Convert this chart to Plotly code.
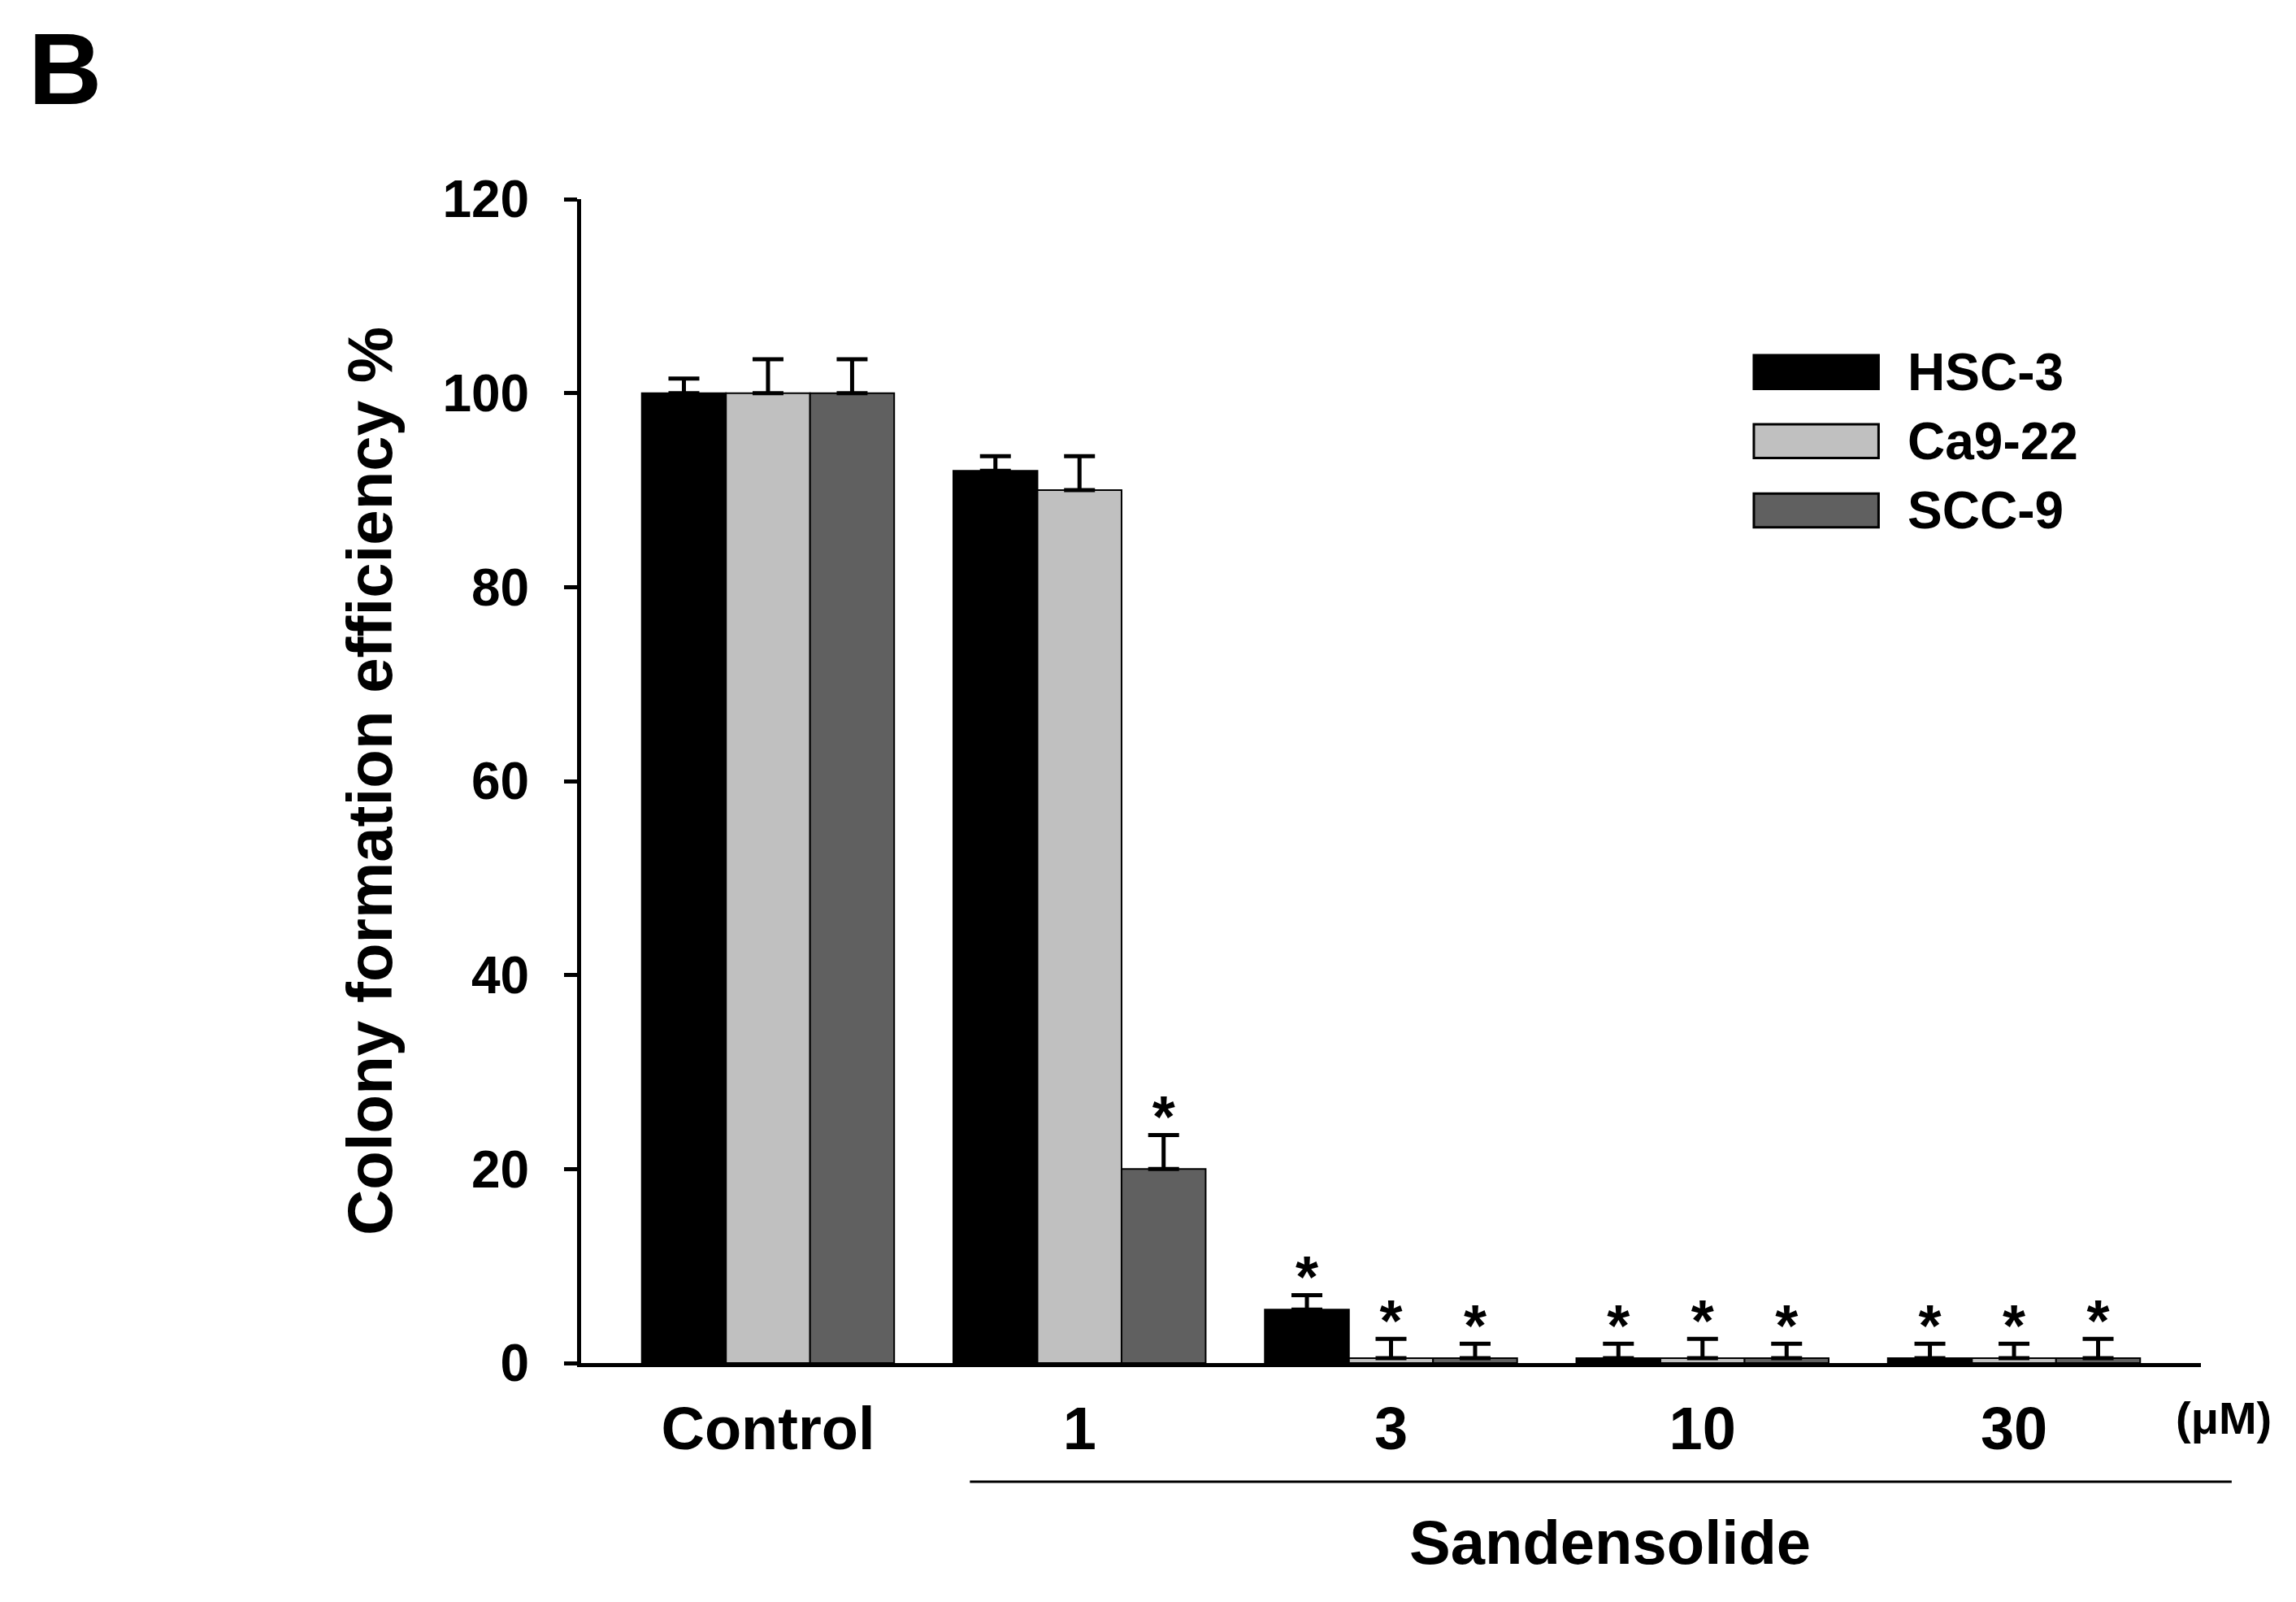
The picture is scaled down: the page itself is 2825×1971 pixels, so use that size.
import plotly.graph_objects as go

# Data
groups = ["Control", "1", "3", "10", "30"]
series_names = ["HSC-3", "Ca9-22", "SCC-9"]
series_colors = ["#000000", "#c0c0c0", "#606060"]

hsc3_mean = [100, 92, 5.5, 0.5, 0.5]
hsc3_err = [1.5, 1.5, 1.5, 1.5, 1.5]
ca922_mean = [100, 90, 0.5, 0.5, 0.5]
ca922_err = [3.5, 3.5, 2.0, 2.0, 1.5]
scc9_mean = [100, 20, 0.5, 0.5, 0.5]
scc9_err = [3.5, 3.5, 1.5, 1.5, 2.0]

hsc3_star = [False, False, True, True, True]
ca922_star = [False, False, True, True, True]
scc9_star = [False, True, True, True, True]

means = [hsc3_mean, ca922_mean, scc9_mean]
errs = [hsc3_err, ca922_err, scc9_err]
stars = [hsc3_star, ca922_star, scc9_star]

FONT = "Liberation Sans"
bar_w = 0.27
star_gap = 1.3  # gap between error bar top and asterisk, in axis units

fig = go.Figure()

for k in range(3):
    xs = [i + (k - 1) * bar_w for i in range(len(groups))]
    fig.add_trace(go.Bar(
        x=xs, y=means[k], width=bar_w, name=series_names[k],
        marker=dict(color=series_colors[k], line=dict(color="black", width=2)),
        error_y=dict(type="data", symmetric=False, array=errs[k],
                     arrayminus=[0] * len(groups), color="black",
                     thickness=5, width=19),
        showlegend=False,
    ))
    # significance asterisks
    sx = [x for x, s in zip(xs, stars[k]) if s]
    sy = [m + e + star_gap for m, e, s in zip(means[k], errs[k], stars[k]) if s]
    fig.add_trace(go.Scatter(
        x=sx, y=sy, mode="text", text=["*"] * len(sx),
        textposition="middle center",
        textfont=dict(family=FONT, size=72, color="black", weight="bold"),
        showlegend=False, hoverinfo="skip", cliponaxis=False,
    ))

# manual legend with wide swatches
annotations = []
shapes = []
for k, name in enumerate(series_names):
    y0 = 0.866 - k * 0.0595
    shapes.append(dict(type="rect", xref="paper", yref="paper",
                       x0=0.724, x1=0.801, y0=y0 - 0.029, y1=y0,
                       fillcolor=series_colors[k],
                       line=dict(color="black", width=3)))
    annotations.append(dict(xref="paper", yref="paper", x=0.818, y=y0 - 0.0145,
                            text=name, showarrow=False, xanchor="left",
                            yanchor="middle",
                            font=dict(family=FONT, size=64, color="black",
                                      weight="bold")))

annotations += [
    dict(xref="paper", yref="paper", x=-0.342, y=1.112, text="B", showarrow=False,
         xanchor="left", yanchor="middle",
         font=dict(family=FONT, size=125, color="black", weight="bold")),
    dict(xref="paper", yref="paper", x=1.014, y=-0.047, text="(μM)",
         showarrow=False, xanchor="center", yanchor="middle",
         font=dict(family=FONT, size=56, color="black", weight="bold")),
    dict(xref="paper", yref="paper", x=0.635, y=-0.154, text="Sandensolide",
         showarrow=False, xanchor="center", yanchor="middle",
         font=dict(family=FONT, size=76, color="black", weight="bold")),
]
shapes.append(dict(type="line", xref="paper", yref="paper",
                   x0=0.24, x1=1.019, y0=-0.102, y1=-0.102,
                   line=dict(color="black", width=3)))

fig.update_layout(
    width=2825, height=1971,
    margin=dict(l=707, r=125, t=237, b=302),
    plot_bgcolor="white", paper_bgcolor="white",
    barmode="overlay",
    annotations=annotations, shapes=shapes,
    font=dict(family=FONT, color="black"),
)

fig.update_xaxes(
    range=[-0.6, 4.6], tickvals=list(range(len(groups))), ticktext=groups,
    showline=True, linecolor="black", linewidth=5, ticks="",
    showgrid=False, zeroline=False, ticklabelstandoff=12,
    tickfont=dict(family=FONT, size=74, color="black", weight="bold"),
)
fig.update_yaxes(
    range=[0, 120], tickvals=[0, 20, 40, 60, 80, 100, 120],
    showline=True, linecolor="black", linewidth=5, ticks="outside",
    ticklen=16, tickwidth=5, tickcolor="black", showgrid=False,
    zeroline=False, ticklabelstandoff=30,
    tickfont=dict(family=FONT, size=64, color="black", weight="bold"),
    title=dict(text="Colony formation efficiency %", standoff=38,
               font=dict(family=FONT, size=78, color="black", weight="bold")),
)

fig.write_html("out.html")
